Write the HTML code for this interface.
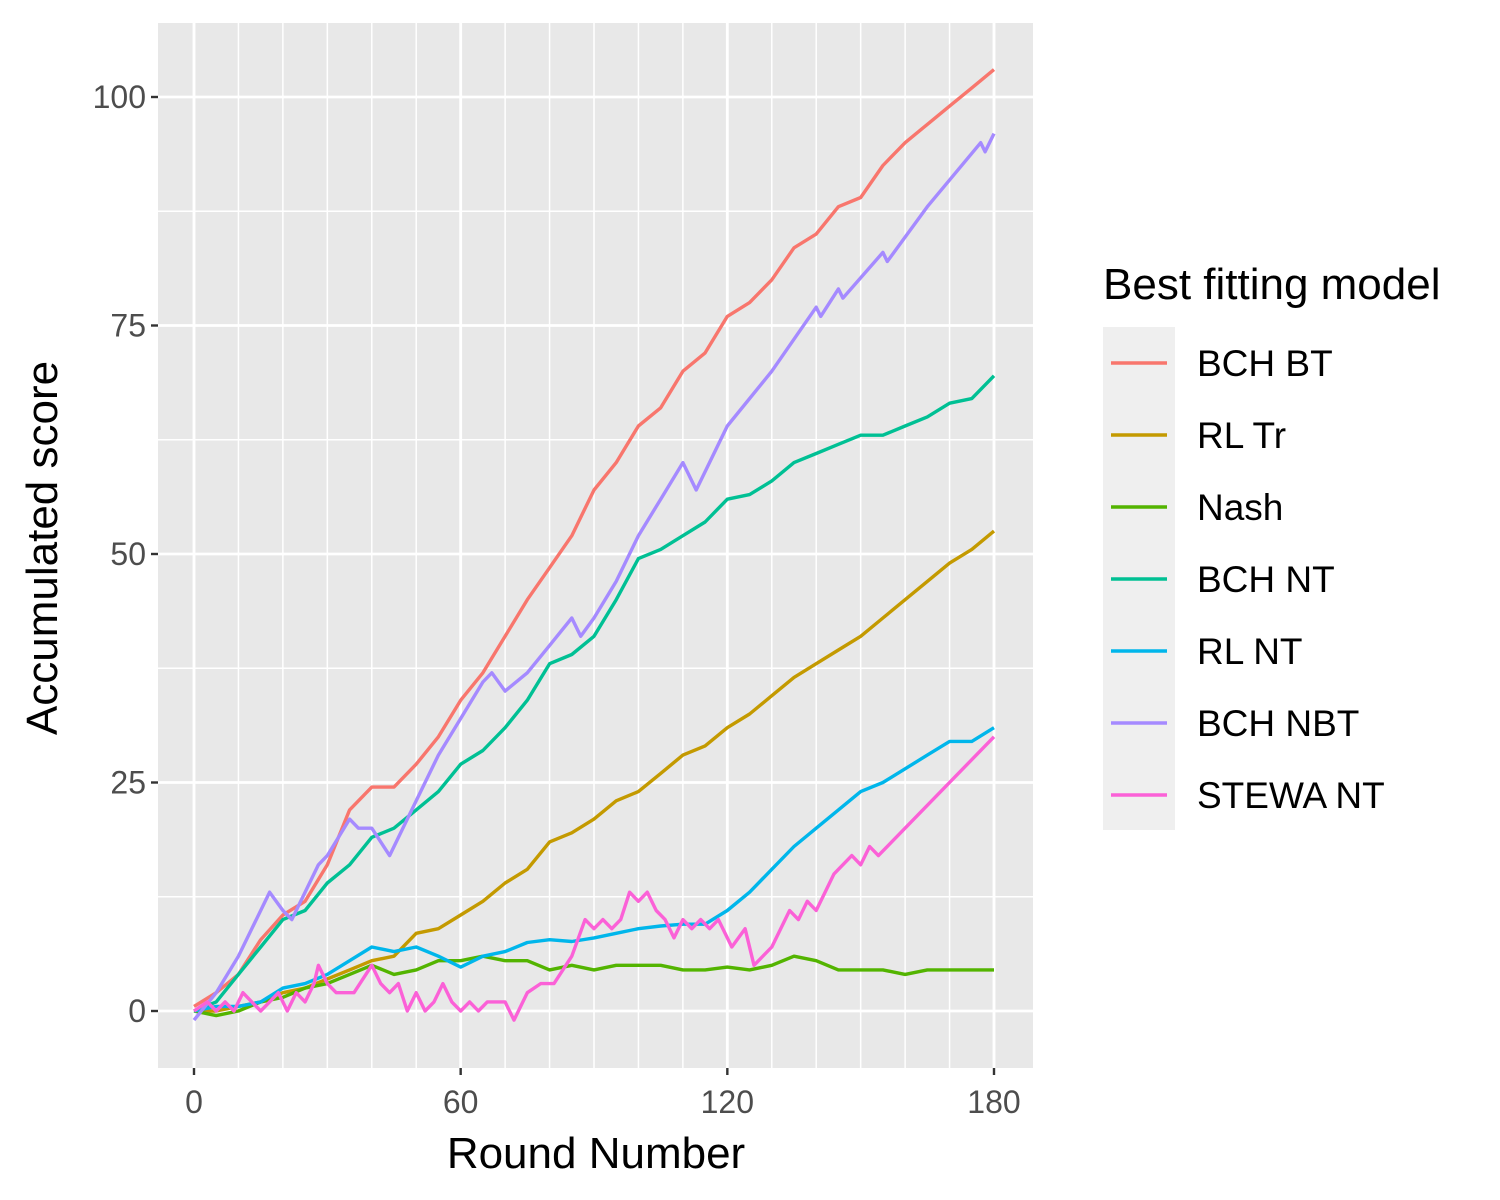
<!DOCTYPE html>
<html><head><meta charset="utf-8"><style>
body{margin:0;background:#fff;}
svg{display:block;font-family:"Liberation Sans",Arial,sans-serif;}
</style></head><body>
<svg id="chart" width="1500" height="1200"></svg>
<script>
const xTicks=[0,60,120,180];
const yTicks=[0,25,50,75,100];
const seriesNames=["BCH BT","RL Tr","Nash","BCH NT","RL NT","BCH NBT","STEWA NT"];
const seriesColors=["#F8766D","#C49A00","#53B400","#00C094","#00B6EB","#A58AFF","#FB61D7"];
const r5=[0,5,10,15,20,25,30,35,40,45,50,55,60,65,70,75,80,85,90,95,100,105,110,115,120,125,130,135,140,145,150,155,160,165,170,175,180];
const bchBT=[0.5,2,4,7.8,10.5,12,16,22,24.5,24.5,27,30,34,37,41,45,48.5,52,57,60,64,66,70,72,76,77.5,80,83.5,85,88,89,92.5,95,97,99,101,103];
const rlTr=[0,0,0.5,1,2,2.5,3.5,4.5,5.5,6,8.5,9,10.5,12,14,15.5,18.5,19.5,21,23,24,26,28,29,31,32.5,34.5,36.5,38,39.5,41,43,45,47,49,50.5,52.5];
const nash=[0,-0.5,0,1,1.5,2.5,3,4,5,4,4.5,5.5,5.5,6,5.5,5.5,4.5,5,4.5,5,5,5,4.5,4.5,4.8,4.5,5,6,5.5,4.5,4.5,4.5,4,4.5,4.5,4.5,4.5];
const bchNT=[0,1,4,7,10,11,14,16,19,20,22,24,27,28.5,31,34,38,39,41,45,49.5,50.5,52,53.5,56,56.5,58,60,61,62,63,63,64,65,66.5,67,69.5];
const rlNT=[0,0.5,0.5,1,2.5,3,4,5.5,7,6.5,7,6,4.8,6,6.5,7.5,7.8,7.6,8,8.5,9,9.3,9.5,9.5,11,13,15.5,18,20,22,24,25,26.5,28,29.5,29.5,31];
const nbtRounds=[0,5,10,15,17,20,22,28,30,35,37,40,44,50,55,60,65,67,70,75,80,85,87,90,95,100,105,110,113,120,130,140,141,145,146,155,156,165,177,178,180];
const bchNBT=[-1,2,6,11,13,11,10,16,17,21,20,20,17,23,28,32,36,37,35,37,40,43,41,43,47,52,56,60,57,64,70,77,76,79,78,83,82,88,95,94,96];
const stRounds=[0,3,5,7,9,11,13,15,17,19,21,23,25,27,28,30,32,36,40,42,44,46,48,50,52,54,56,58,60,62,64,66,70,72,75,78,81,85,88,90,92,94,96,98,100,102,104,106,108,110,112,114,116,118,121,124,126,130,134,136,138,140,144,148,150,152,154,180];
const stewaNT=[0,1,0,1,0,2,1,0,1,2,0,2,1,3,5,3,2,2,5,3,2,3,0,2,0,1,3,1,0,1,0,1,1,-1,2,3,3,6,10,9,10,9,10,13,12,13,11,10,8,10,9,10,9,10,7,9,5,7,11,10,12,11,15,17,16,18,17,30];
const seriesX=[r5,r5,r5,r5,r5,nbtRounds,stRounds];
const seriesY=[bchBT,rlTr,nash,bchNT,rlNT,bchNBT,stewaNT];

const NS="http://www.w3.org/2000/svg";
const svg=document.getElementById("chart");
const PL=158,PR=1033,PT=23,PB=1068;
const sx=v=>194+v*(800/180);
const sy=v=>1011-v*(914/100);
function mk(tag,attrs,parent){const e=document.createElementNS(NS,tag);for(const k in attrs)e.setAttribute(k,attrs[k]);(parent||svg).appendChild(e);return e;}
const panel=mk("rect",{x:PL,y:PT,width:PR-PL,height:PB-PT,fill:"#E8E8E8"});


for(let r=0;r<=180;r+=10){
  const g=mk("line",{x1:sx(r),x2:sx(r),y1:PT,y2:PB,stroke:"#fff","stroke-width":r%60===0?2.8:1.5});
  
  
}
for(let v=-12.5;v<=112.5;v+=12.5){
  const y=sy(v); if(y<PT||y>PB) continue;
  const g=mk("line",{x1:PL,x2:PR,y1:y,y2:y,stroke:"#fff","stroke-width":v%25===0?2.8:1.5});
  
  
}
for(let i=0;i<seriesNames.length;i++){
  const pts=seriesX[i].map((r,j)=>sx(r).toFixed(1)+","+sy(seriesY[i][j]).toFixed(1)).join(" ");
  const p=mk("polyline",{points:pts,fill:"none",stroke:seriesColors[i],"stroke-width":3.4,"stroke-linejoin":"round"});
  
  
}
for(const t of xTicks){
  const l=mk("line",{x1:sx(t),x2:sx(t),y1:PB,y2:PB+7,stroke:"#333","stroke-width":2.4});
  
  
  const tx=mk("text",{x:sx(t),y:PB+45,"text-anchor":"middle","font-size":32,fill:"#4D4D4D"});
  tx.textContent=t;
  
  
}
for(const t of yTicks){
  const l=mk("line",{x1:PL-7,x2:PL,y1:sy(t),y2:sy(t),stroke:"#333","stroke-width":2.4});
  
  
  const tx=mk("text",{x:PL-12,y:sy(t)+11,"text-anchor":"end","font-size":32,fill:"#4D4D4D"});
  tx.textContent=t;
  
  
}
const xt=mk("text",{x:596,y:1168,"text-anchor":"middle","font-size":44,fill:"#000"});
xt.textContent="Round Number";


const yt=mk("text",{x:0,y:0,"text-anchor":"middle","font-size":44,fill:"#000",transform:"translate(57,548) rotate(-90)"});
yt.textContent="Accumulated score";


const lt=mk("text",{x:1103,y:299,"font-size":44,fill:"#000"});
lt.textContent="Best fitting model";


const lb=mk("rect",{x:1103,y:327,width:72,height:503,fill:"#EFEFEF"});


for(let i=0;i<seriesNames.length;i++){
  const y=363+i*72;
  const l=mk("line",{x1:1111,x2:1167,y1:y,y2:y,stroke:seriesColors[i],"stroke-width":3.4});
  
  
  const t=mk("text",{x:1197,y:y+13,"font-size":37,fill:"#000"});
  t.textContent=seriesNames[i];
  
  
}
</script>
</body></html>
